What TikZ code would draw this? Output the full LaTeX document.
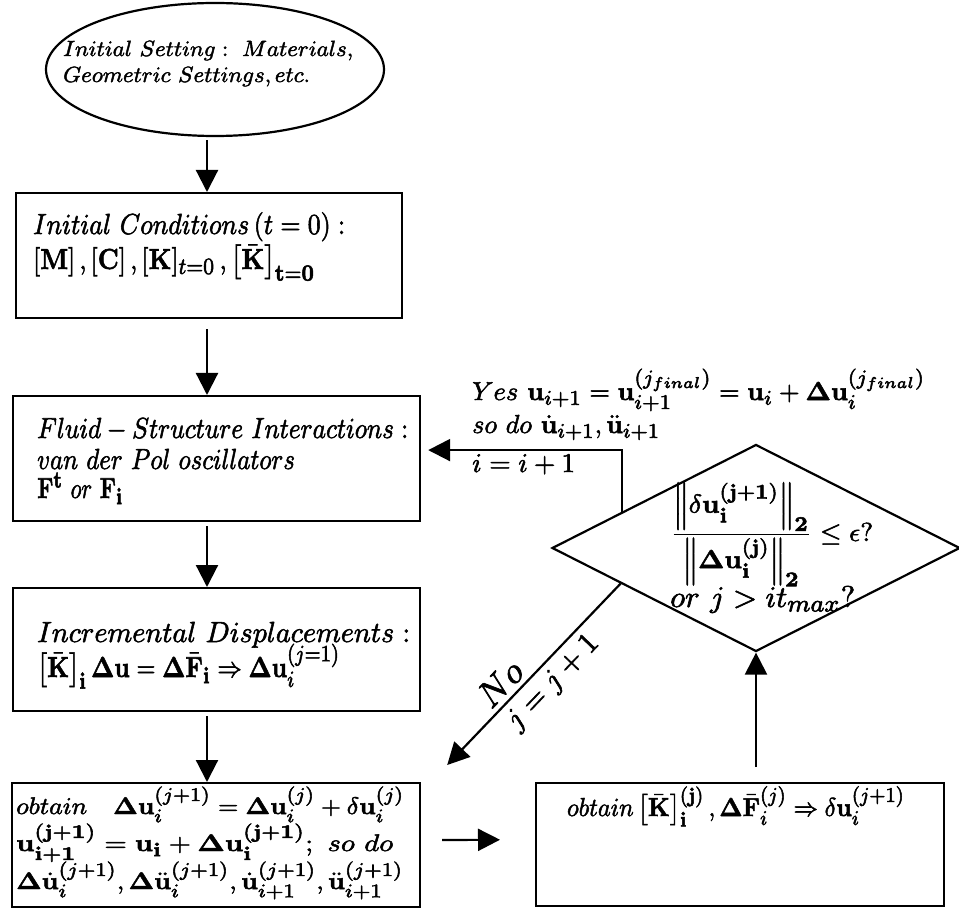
\documentclass[tikz,border=0pt]{standalone}
\usepackage{amsmath,bm}
\usetikzlibrary{shapes.geometric,arrows.meta,calc}
\DeclareMathSizes{10}{10}{8}{6}
\newcommand{\bu}{\mathbf{u}}
\newcommand{\bD}{\bm{\Delta}}
\newcommand{\Kb}{\bar{\mathbf{K}}}
\newcommand{\Fb}{\bar{\mathbf{F}}}
% width-fitted line: #1 target width, #2 vertical scale, #3 math
\newcommand{\heavy}{\special{pdf:literal direct 2 Tr 0.2 w}}
\newcommand{\fitw}[3]{\resizebox{#1pt}{\height}{\scalebox{#2}{\heavy$#3$}}}
\begin{document}
\begin{tikzpicture}[x=1pt,y=-1pt,
  lw/.style={line width=2.2pt},
  box/.style={draw,lw,rectangle,inner sep=0pt,anchor=north west},
  arr/.style={lw,-{Triangle[length=22pt,width=22pt]}},
  txt/.style={inner sep=0pt,anchor=base west},
]
\useasboundingbox (0,0) rectangle (959,909);
% shapes
\node[draw,lw,ellipse,minimum width=338pt,minimum height=133pt,inner sep=0pt] (e) at (215,69.5) {};
\node[box,minimum width=386pt,minimum height=125pt] (b1) at (15,192) {};
\node[box,minimum width=407pt,minimum height=125pt] (b2) at (12,395) {};
\node[box,minimum width=407pt,minimum height=123pt] (b3) at (12,587) {};
\node[box,minimum width=408pt,minimum height=124pt] (b4) at (11,782) {};
\node[box,minimum width=408pt,minimum height=123pt] (b5) at (535,782) {};
\node[draw,lw,diamond,minimum width=408pt,minimum height=207pt,inner sep=0pt] (d) at (756,548) {};
\coordinate (ax) at (207,0);
% texts
\node[txt] (et1) at (63,56) {\fitw{290}{2.2}{Initial\ Setting:\ Materials,}};
\node[txt] (et2) at (63,82) {\fitw{247}{2.2}{Geometric\ Settings, etc.}};
\node[txt] (b1a) at (33,234) {\fitw{312}{2.9}{Initial\ Conditions\,(t=0):}};
\node[txt] (b1b) at (33,269) {\fitw{282}{2.9}{[\mathbf{M}]\,,[\mathbf{C}]\,,[\mathbf{K}]_{t=0}\,,\left[\Kb\right]_{\mathbf{t=0}}}};
\node[txt] (b2a) at (37,438) {\fitw{371}{2.9}{Fluid-Structure\ Interactions:}};
\node[txt] (b2b) at (37,469) {\fitw{258}{2.9}{van\ der\ Pol\ oscillators}};
\node[txt] (b2c) at (37,498) {\fitw{86}{2.9}{\mathbf{F}^{\mathbf{t}}\ or\ \mathbf{F}_{\mathbf{i}}}};
\node[txt] (b3a) at (37,642) {\fitw{373}{2.9}{Incremental\ Displacements:}};
\node[txt] (b3b) at (37,677) {\fitw{303}{2.9}{\left[\Kb\right]_{\mathbf{i}}\bD\bu=\bD\Fb_{\mathbf{i}}\Rightarrow\bD\bu_i^{(j=1)}}};
\node[txt] (b4a) at (16,814) {\fitw{388}{2.4}{obtain\quad\bD\bu_i^{(j+1)}=\bD\bu_i^{(j)}+\delta\bu_i^{(j)}}};
\node[txt] (b4b) at (16,851) {\fitw{377}{2.4}{\bu_{\mathbf{i+1}}^{(\mathbf{j+1})}=\bu_{\mathbf{i}}+\bD\bu_{\mathbf{i}}^{(\mathbf{j+1})};\ so\ do}};
\node[txt] (b4c) at (16,889) {\fitw{387}{2.4}{\bD\dot{\bu}_i^{(j+1)},\bD\ddot{\bu}_i^{(j+1)},\dot{\bu}_{i+1}^{(j+1)},\ddot{\bu}_{i+1}^{(j+1)}}};
\node[txt,anchor=base] (b5t) at (736,816) {\fitw{338}{2.6}{obtain\left[\Kb\right]_{\mathbf{i}}^{(\mathbf{j})},\bD\Fb_i^{(j)}\Rightarrow\delta\bu_i^{(j+1)}}};
\node[txt] (dt1) at (670,541) {\fitw{203}{2.6}{\dfrac{\left\|\delta\bu_{\mathbf{i}}^{(\mathbf{j+1})}\right\|_{\mathbf{2}}}{\left\|\bD\bu_{\mathbf{i}}^{(\mathbf{j})}\right\|_{\mathbf{2}}}\le\epsilon?}};
\node[txt] (dt2) at (670,607) {\fitw{185}{3.0}{or\ j>it_{max}?}};
\node[txt] (y1) at (472,400) {\fitw{453}{2.6}{Yes\ \bu_{i+1}=\bu_{i+1}^{(j_{final})}=\bu_i+\bD\bu_i^{(j_{final})}}};
\node[txt] (y2) at (472,433) {\fitw{188}{2.6}{so\ do\ \dot{\bu}_{i+1},\ddot{\bu}_{i+1}}};
\node[txt] (y3) at (472,472) {\fitw{103}{2.7}{i=i+1}};
% connectors
\draw[arr,shorten <=3pt] (ax |- e.south) -- (ax |- b1.north);
\draw[arr,shorten <=10pt] (ax |- b1.south) -- (ax |- b2.north);
\draw[arr,shorten <=4pt] (ax |- b2.south) -- (ax |- b3.north);
\draw[arr,shorten <=4pt] (ax |- b3.south) -- (ax |- b4.north);
\draw[arr,shorten <=21pt,shorten >=35pt] ([yshift=5pt]b4.east) -- ([yshift=5pt]b5.west);
\draw[arr,shorten <=15pt] (d.south |- b5.north) -- (d.south);
\coordinate (ys) at ($(d.west)!0.345!(d.north)$);
\coordinate (ns) at ($(d.west)!0.34!(d.south)$);
\coordinate (ne) at ([shift={(26,-17)}]b4.north east);
\draw[arr,shorten >=7pt] (ys) |- ([yshift=8.5pt]b2.east);
\draw[arr] (ns) -- node[pos=0.62,sloped,above=5pt,inner sep=0pt] (nol) {\resizebox{50pt}{!}{\heavy$No$}} node[pos=0.47,sloped,below=6pt,inner sep=0pt] (jl) {\resizebox{120pt}{!}{\heavy$j=j+1$}} (ne);
\end{tikzpicture}
\end{document}
